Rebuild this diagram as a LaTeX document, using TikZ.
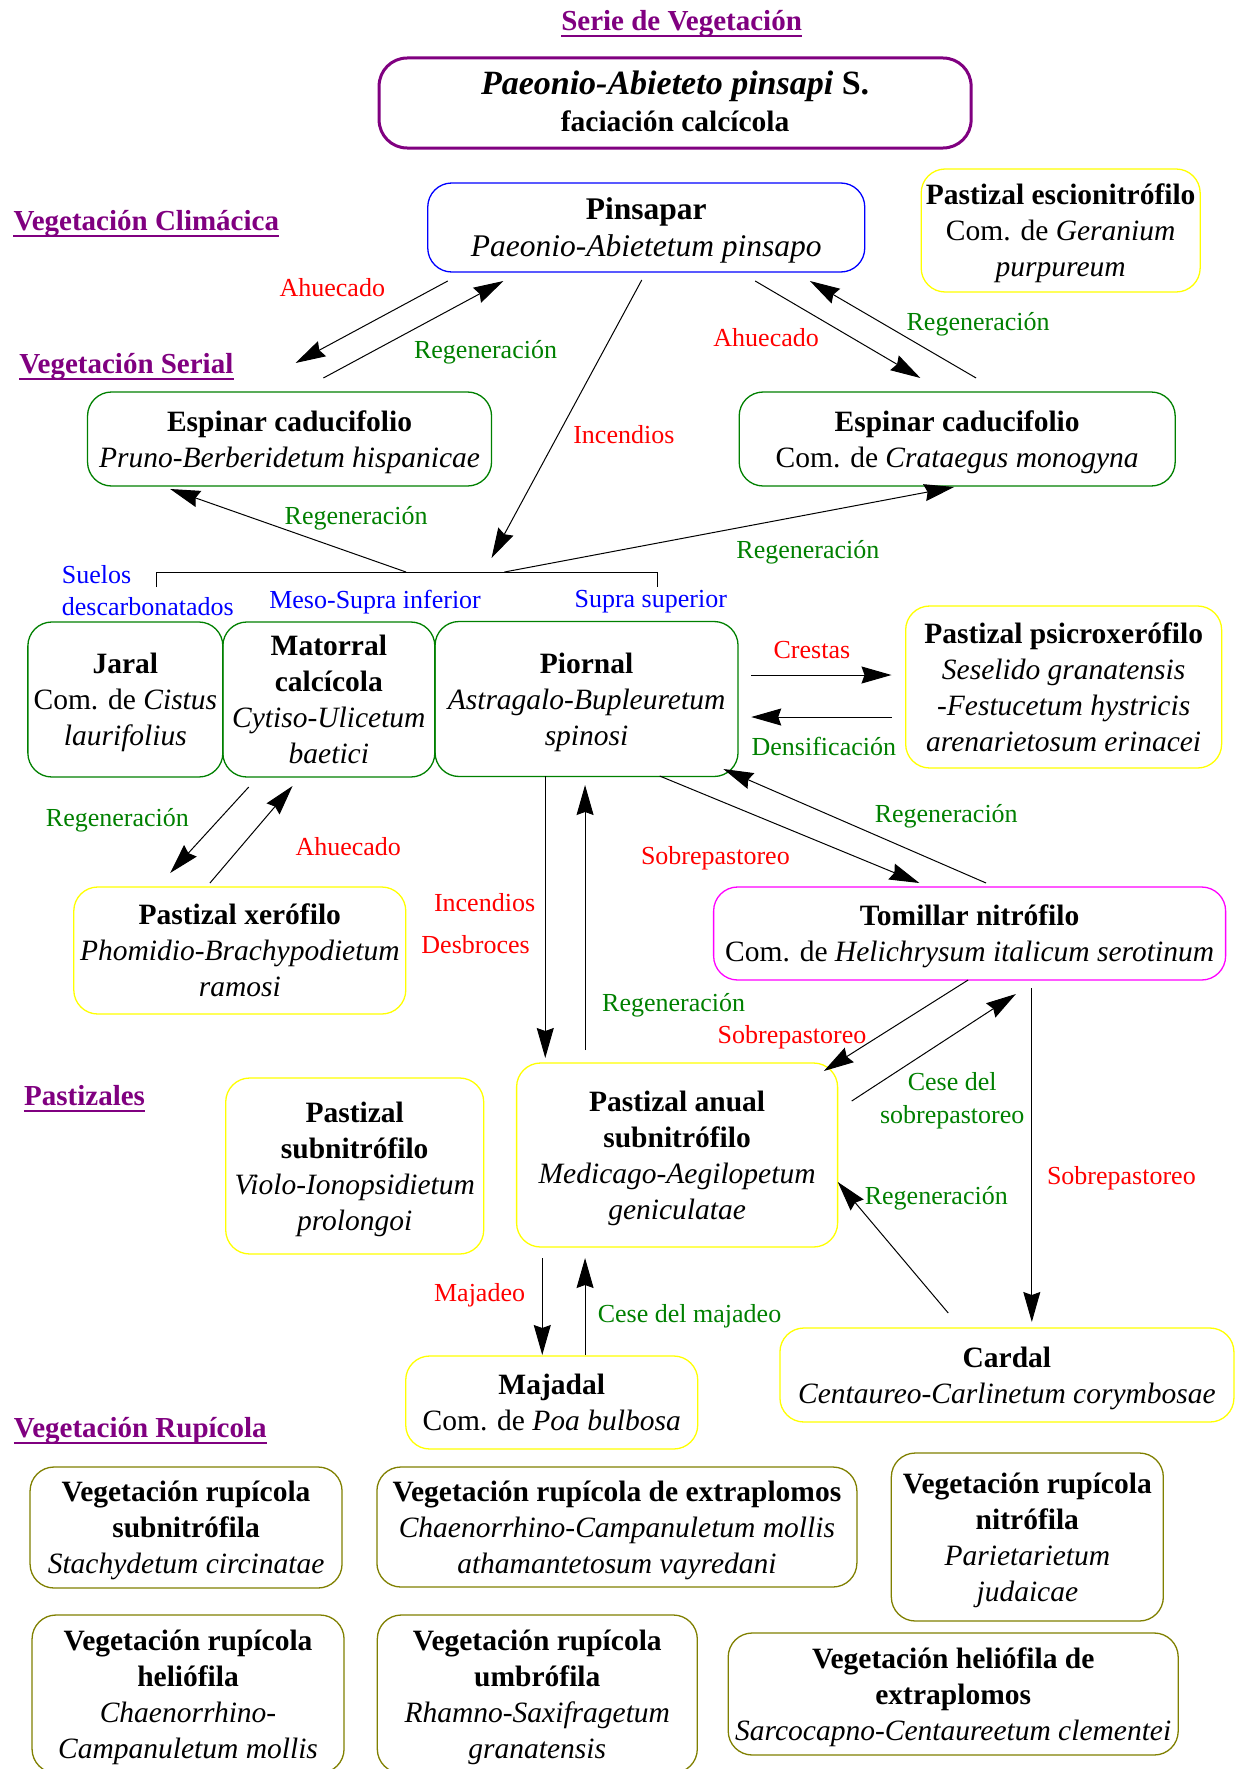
\documentclass[tikz,border=0pt]{standalone}
\usepackage{fontspec}
\setmainfont{Liberation Serif}
\usetikzlibrary{arrows.meta}
\definecolor{vpurple}{RGB}{128,0,128}
\definecolor{vgreen}{RGB}{0,128,0}
\definecolor{volive}{RGB}{128,128,0}
\definecolor{vyellow}{RGB}{255,255,0}
\definecolor{vmagenta}{RGB}{255,0,255}
\definecolor{vred}{RGB}{255,0,0}
\definecolor{vblue}{RGB}{0,0,255}
% stacked, centred lines of a vegetation box, set a little low in the frame
\newcommand\vegtxt[1]{\raisebox{-3pt}[\height][\depth]{\begin{tabular}{@{}c@{}}#1\end{tabular}}}

\begin{document}
\begin{tikzpicture}[x=0.995pt,y=-1pt,
  box/.style={draw, rounded corners=24pt, line width=1.3pt,
              inner sep=0pt, font=\fontsize{29.5}{36}\selectfont},
  lbl/.style={font=\fontsize{26}{32}\selectfont, inner sep=0pt, align=center},
  red/.style={lbl, text=vred},
  grn/.style={lbl, text=vgreen},
  blu/.style={lbl, text=vblue},
  head/.style={font=\fontsize{29}{34}\selectfont\bfseries, text=vpurple, inner sep=0pt},
  uline/.style={vpurple, line width=2.5pt},
  arr/.style={line width=1pt, -{Stealth[length=30pt,width=17pt,inset=3pt]}},
  ln/.style={line width=1pt}]

\useasboundingbox (0,0) rectangle (1248.2,1769);
\clip (0,0) rectangle (1248.2,1769);
\fill[white] (0,0) rectangle (1248.2,1769);

% ---------- headings ----------
\node[head] (title) at (685,24) {Serie de Vegetación};
\draw[uline] ([yshift=-5pt]title.base west) -- ([yshift=-5pt]title.base east);
\node[head] (hclim) at (147,224) {Vegetación Climácica};
\draw[uline] ([yshift=-5pt]hclim.base west) -- ([yshift=-5pt]hclim.base east);
\node[head] (hser) at (127,367) {Vegetación Serial};
\draw[uline] ([yshift=-5pt]hser.base west) -- ([yshift=-5pt]hser.base east);
\node[head] (hpast) at (85,1096) {Pastizales};
\draw[uline] ([yshift=-5pt]hpast.base west) -- ([yshift=-5pt]hpast.base east);
\node[head] (hrup) at (141,1431) {Vegetación Rupícola};
\draw[uline] ([yshift=-5pt]hrup.base west) -- ([yshift=-5pt]hrup.base east);

% ---------- series box ----------
\node[box, draw=vpurple, line width=3pt, rounded corners=28pt, minimum width=592pt, minimum height=90pt, font=\fontsize{29.5}{37}\selectfont]
  (serie) at (678.5,103) {\vegtxt{{\fontsize{34}{37}\selectfont\textbf{\textit{Paeonio-Abieteto pinsapi} S.}}\\\textbf{faciación calcícola}}};

% ---------- climax ----------
\node[box, draw=vblue, minimum width=437pt, minimum height=89pt, font=\fontsize{31.5}{37}\selectfont] (pin) at (649.5,227.5)
  {\vegtxt{\textbf{Pinsapar}\\\textit{Paeonio-Abietetum pinsapo}}};
\node[box, draw=vyellow, minimum width=279pt, minimum height=123pt] (escio) at (1066,230.5)
  {\vegtxt{\textbf{Pastizal escionitrófilo}\\Com. de \textit{Geranium}\\\textit{purpureum}}};

% ---------- serial ----------
\node[box, draw=vgreen, minimum width=404pt, minimum height=94pt] (espL) at (291,439)
  {\vegtxt{\textbf{Espinar caducifolio}\\\textit{Pruno-Berberidetum hispanicae}}};
\node[box, draw=vgreen, minimum width=436pt, minimum height=94pt] (espR) at (962,439)
  {\vegtxt{\textbf{Espinar caducifolio}\\Com. de \textit{Crataegus monogyna}}};

\node[box, draw=vgreen, minimum width=195pt, minimum height=155pt] (jaral) at (126,699.5)
  {\vegtxt{\textbf{Jaral}\\Com. de \textit{Cistus}\\\textit{laurifolius}}};
\node[box, draw=vgreen, minimum width=212pt, minimum height=155pt] (mator) at (330.5,699.5)
  {\vegtxt{\textbf{Matorral}\\\textbf{calcícola}\\\textit{Cytiso-Ulicetum}\\\textit{baetici}}};
\node[box, draw=vgreen, minimum width=303pt, minimum height=155pt] (piornal) at (589.5,699)
  {\vegtxt{\textbf{Piornal}\\\textit{Astragalo-Bupleuretum}\\\textit{spinosi}}};
\node[box, draw=vyellow, minimum width=316pt, minimum height=162pt] (psicro) at (1069,687)
  {\vegtxt{\textbf{Pastizal psicroxerófilo}\\\textit{Seselido granatensis}\\\textit{-Festucetum hystricis}\\\textit{arenarietosum erinacei}}};

\node[box, draw=vyellow, minimum width=332pt, minimum height=127pt] (xero) at (241,950.5)
  {\vegtxt{\textbf{Pastizal xerófilo}\\\textit{Phomidio-Brachypodietum}\\\textit{ramosi}}};
\node[box, draw=vmagenta, minimum width=512pt, minimum height=93pt] (tomi) at (974.5,933.5)
  {\vegtxt{\textbf{Tomillar nitrófilo}\\Com. de \textit{Helichrysum italicum serotinum}}};

% ---------- pastizales ----------
\node[box, draw=vyellow, minimum width=258pt, minimum height=176pt] (subn) at (356.5,1166)
  {\vegtxt{\textbf{Pastizal}\\\textbf{subnitrófilo}\\\textit{Violo-Ionopsidietum}\\\textit{prolongoi}}};
\node[box, draw=vyellow, minimum width=321pt, minimum height=184pt] (anual) at (680.5,1155)
  {\vegtxt{\textbf{Pastizal anual}\\\textbf{subnitrófilo}\\\textit{Medicago-Aegilopetum}\\\textit{geniculatae}}};
\node[box, draw=vyellow, minimum width=292pt, minimum height=93pt] (majadal) at (554.5,1402.5)
  {\vegtxt{\textbf{Majadal}\\Com. de \textit{Poa bulbosa}}};
\node[box, draw=vyellow, minimum width=454pt, minimum height=94pt] (cardal) at (1012,1375)
  {\vegtxt{\textbf{Cardal}\\\textit{Centaureo-Carlinetum corymbosae}}};

% ---------- rupicolous ----------
\node[box, draw=volive, minimum width=312pt, minimum height=121pt] (r1) at (187,1527.5)
  {\vegtxt{\textbf{Vegetación rupícola}\\\textbf{subnitrófila}\\\textit{Stachydetum circinatae}}};
\node[box, draw=volive, minimum width=480pt, minimum height=120pt] (r2) at (620,1527)
  {\vegtxt{\textbf{Vegetación rupícola de extraplomos}\\\textit{Chaenorrhino-Campanuletum mollis}\\\textit{athamantetosum vayredani}}};
\node[box, draw=volive, minimum width=272pt, minimum height=168pt] (r3) at (1032.5,1537)
  {\vegtxt{\textbf{Vegetación rupícola}\\\textbf{nitrófila}\\\textit{Parietarietum}\\\textit{judaicae}}};
\node[box, draw=volive, minimum width=312pt, minimum height=158pt] (r4) at (189,1694)
  {\vegtxt{\textbf{Vegetación rupícola}\\\textbf{heliófila}\\\textit{Chaenorrhino-}\\\textit{Campanuletum mollis}}};
\node[box, draw=volive, minimum width=320pt, minimum height=158pt] (r5) at (540,1694)
  {\vegtxt{\textbf{Vegetación rupícola}\\\textbf{umbrófila}\\\textit{Rhamno-Saxifragetum}\\\textit{granatensis}}};
\node[box, draw=volive, minimum width=450pt, minimum height=122pt] (r6) at (958,1694)
  {\vegtxt{\textbf{Vegetación heliófila de}\\\textbf{extraplomos}\\\textit{Sarcocapno-Centaureetum clementei}}};

% ---------- connector ends ----------
\coordinate (a1s) at (450,281);  \coordinate (a1e) at (297,363);
\coordinate (a2s) at (325,378);  \coordinate (a2e) at (506,281);
\coordinate (a3s) at (759,281);  \coordinate (a3e) at (925,378);
\coordinate (a4s) at (981,378);  \coordinate (a4e) at (814,281);
\coordinate (incs) at (645,280); \coordinate (ince) at (494,558);
\coordinate (brL) at (157,587);  \coordinate (brLt) at (157,572);
\coordinate (brR) at (661,587);  \coordinate (brRt) at (661,572);
\coordinate (rgLs) at (408,572); \coordinate (rgLe) at (171,489);
\coordinate (rgRs) at (507,572); \coordinate (rgRe) at (959,487);
\coordinate (crs) at (755,675);  \coordinate (cre) at (896,675);
\coordinate (dns) at (896,717);  \coordinate (dne) at (755,717);
\coordinate (mxs) at (250,787);  \coordinate (mxe) at (171,873);
\coordinate (xms) at (211,883);  \coordinate (xme) at (294,786);
\coordinate (pds) at (548,776);  \coordinate (pde) at (548,1058);
\coordinate (pus) at (588,1050); \coordinate (pue) at (588,785);
\coordinate (pts) at (663,776);  \coordinate (pte) at (924,883);
\coordinate (tps) at (991,883);  \coordinate (tpe) at (727,769);
\coordinate (tas) at (973,980);  \coordinate (tae) at (828,1071);
\coordinate (ats) at (856,1101); \coordinate (ate) at (1021,994);
\coordinate (tcs) at (1037,988); \coordinate (tce) at (1037,1322);
\coordinate (cas) at (953,1313); \coordinate (cae) at (842,1182);
\coordinate (mjs) at (545,1258); \coordinate (mje) at (545,1355);
\coordinate (cms) at (588,1355); \coordinate (cme) at (588,1258);

% ---------- connectors ----------
\draw[arr] (a1s) -- (a1e);
\draw[arr] (a2s) -- (a2e);
\draw[arr] (a3s) -- (a3e);
\draw[arr] (a4s) -- (a4e);
\draw[arr] (incs) -- (ince);
\draw[ln] (brL) -- (brLt) -- (brRt) -- (brR);
\draw[arr] (rgLs) -- (rgLe);
\draw[arr] (rgRs) -- (rgRe);
\draw[arr] (crs) -- (cre);
\draw[arr] (dns) -- (dne);
\draw[arr] (mxs) -- (mxe);
\draw[arr] (xms) -- (xme);
\draw[arr] (pds) -- (pde);
\draw[arr] (pus) -- (pue);
\draw[arr] (pts) -- (pte);
\draw[arr] (tps) -- (tpe);
\draw[arr] (tas) -- (tae);
\draw[arr] (ats) -- (ate);
\draw[arr] (tcs) -- (tce);
\draw[arr] (cas) -- (cae);
\draw[arr] (mjs) -- (mje);
\draw[arr] (cms) -- (cme);

% ---------- labels ----------
\node[red] (l1) at (334,288) {Ahuecado};
\node[grn] (l2) at (488,352) {Regeneración};
\node[red] (l3) at (770,338) {Ahuecado};
\node[grn] (l4) at (983,324) {Regeneración};
\node[red] (l5) at (627,435) {Incendios};
\node[grn] (l6) at (358,518) {Regeneración};
\node[grn] (l7) at (812,552) {Regeneración};
\node[blu, align=left, anchor=west] (l8) at (62,591) {Suelos\\descarbonatados};
\node[blu] (l9) at (377,602) {Meso-Supra inferior};
\node[blu] (l10) at (654,602) {Supra superior};
\node[red] (l11) at (816,650) {Crestas};
\node[grn] (l12) at (828,746) {Densificación};
\node[grn] (l13) at (118,820) {Regeneración};
\node[red] (l14) at (350,847) {Ahuecado};
\node[red] (l15) at (487,903) {Incendios};
\node[red] (l16) at (478,945) {Desbroces};
\node[grn] (l17) at (677,1005) {Regeneración};
\node[red] (l18) at (719,858) {Sobrepastoreo};
\node[grn] (l19) at (951,816) {Regeneración};
\node[red] (l20) at (796,1037) {Sobrepastoreo};
\node[grn, font=\fontsize{26}{33}\selectfont] (l21) at (957,1101) {Cese del\\sobrepastoreo};
\node[red] (l22) at (1127,1178) {Sobrepastoreo};
\node[grn] (l23) at (941,1198) {Regeneración};
\node[red] (l24) at (482,1295) {Majadeo};
\node[grn] (l25) at (693,1316) {Cese del majadeo};

\end{tikzpicture}
\end{document}
